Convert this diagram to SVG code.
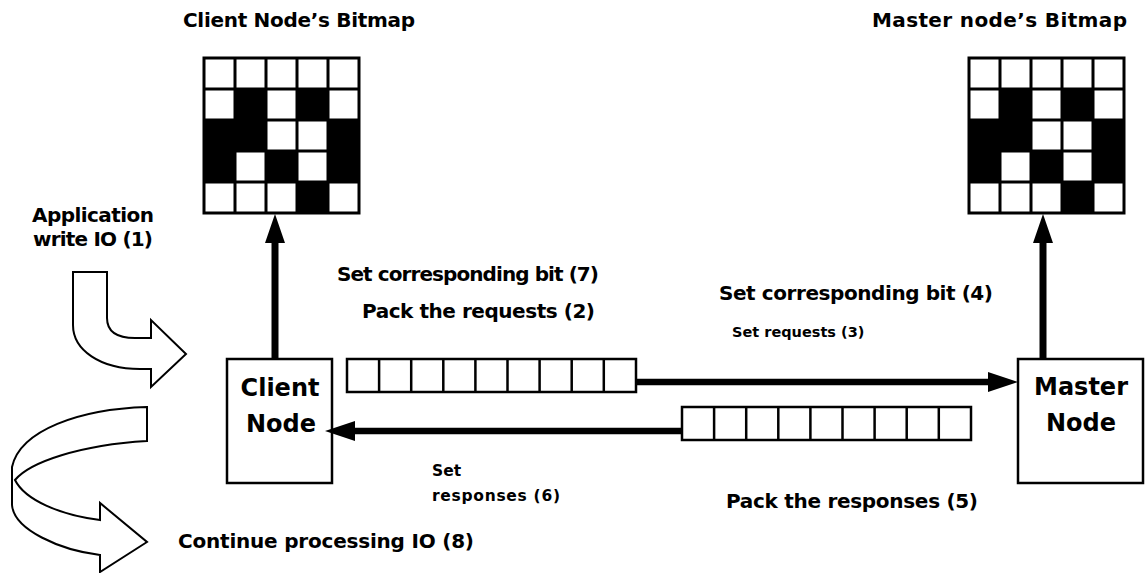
<svg xmlns="http://www.w3.org/2000/svg" width="1145" height="573" viewBox="0 0 1145 573">
<style>
  text { font-family: "DejaVu Sans", "Liberation Sans", sans-serif; font-weight: bold; fill: #000; }
  .lbl { font-size: 20px; }
  .sm { font-size: 15.5px; }
  .xs { font-size: 14.5px; }
  .big { font-size: 24px; text-anchor: middle; }
  .box { fill: #fff; stroke: #000; stroke-width: 2.5; }
  .cell { fill: #fff; stroke: #000; stroke-width: 2.5; }
  .grid { fill: none; stroke: #000; stroke-width: 3; }
  .blk { fill: #000; }
  .conn { stroke: #000; stroke-width: 7; fill: none; }
  .hconn { stroke: #000; stroke-width: 6.5; fill: none; }
  .head { fill: #000; }
  .bend { fill: #fff; stroke: #000; stroke-width: 2; stroke-linejoin: miter; }
</style>
<defs>
  <g id="bitmap">
    <rect x="0" y="0" width="155" height="155" fill="#fff"/>
    <rect class="blk" x="31" y="31" width="31" height="31"/>
    <rect class="blk" x="93" y="31" width="31" height="31"/>
    <rect class="blk" x="0" y="62" width="31" height="31"/>
    <rect class="blk" x="31" y="62" width="31" height="31"/>
    <rect class="blk" x="124" y="62" width="31" height="31"/>
    <rect class="blk" x="0" y="93" width="31" height="31"/>
    <rect class="blk" x="62" y="93" width="31" height="31"/>
    <rect class="blk" x="124" y="93" width="31" height="31"/>
    <rect class="blk" x="93" y="124" width="31" height="31"/>
    <path class="grid" d="M0,0H155V155H0Z M31,0V155 M62,0V155 M93,0V155 M124,0V155 M0,31H155 M0,62H155 M0,93H155 M0,124H155"/>
  </g>
  <g id="packet">
    <rect class="cell" x="0" y="0" width="289" height="33"/>
    <path class="cell" d="M32.1,0V33 M64.2,0V33 M96.3,0V33 M128.4,0V33 M160.5,0V33 M192.6,0V33 M224.7,0V33 M256.8,0V33"/>
  </g>
</defs>

<g id="client-bitmap">
  <text class="lbl" x="183" y="27" textLength="232">Client Node’s Bitmap</text>
  <use href="#bitmap" x="204" y="58"/>
</g>

<g id="master-bitmap">
  <text class="lbl" x="872" y="27" textLength="255">Master node’s Bitmap</text>
  <use href="#bitmap" x="969" y="58"/>
</g>

<g id="client-node">
  <rect class="box" x="227" y="359" width="105" height="124"/>
  <text class="big" x="280" y="396">Client</text>
  <text class="big" x="281" y="432">Node</text>
</g>

<g id="master-node">
  <rect class="box" x="1018" y="359" width="125" height="124"/>
  <text class="big" x="1081" y="395">Master</text>
  <text class="big" x="1081" y="431">Node</text>
</g>

<g id="request-packet">
  <use href="#packet" x="347" y="359"/>
</g>

<g id="response-packet">
  <use href="#packet" x="682" y="407"/>
</g>

<g id="connectors">
  <line class="conn" x1="275" y1="359" x2="275" y2="240"/>
  <polygon class="head" points="275,214 265,243 285,243"/>
  <line class="conn" x1="1043" y1="359" x2="1043" y2="240"/>
  <polygon class="head" points="1043,214 1033,243 1053,243"/>
  <line class="hconn" x1="636" y1="382" x2="992" y2="382"/>
  <polygon class="head" points="1018,382 988,372 988,392"/>
  <line class="hconn" x1="682" y1="431" x2="352" y2="431"/>
  <polygon class="head" points="325,431 355,421 355,441"/>
</g>

<g id="app-write">
  <text class="lbl" x="32" y="222" textLength="122">Application</text>
  <text class="lbl" x="33" y="246" textLength="120">write IO (1)</text>
  <path class="bend" d="M73,272 H107 V318 Q107,338 135,338 H151 V320 L186,354 L151,387 V369 H140 C100,369 73,350 73,325 Z"/>
</g>

<g id="continue">
  <path class="bend" d="M147,407 C80,409 20,430 12,467 L12,505 C14,530 60,550 100,555 L100,572 L147,542 L100,503 L100,520 C60,515 25,500 15,480 C30,462 80,445 147,441 Z"/>
  <text class="lbl" x="178" y="548" textLength="296">Continue processing IO (8)</text>
</g>

<g id="labels">
  <text class="lbl" x="337" y="281" textLength="262">Set corresponding bit (7)</text>
  <text class="lbl" x="362" y="318" textLength="233">Pack the requests (2)</text>
  <text class="lbl" x="719" y="300" textLength="274">Set corresponding bit (4)</text>
  <text class="xs" x="732" y="337">Set requests (3)</text>
  <text class="sm" x="432" y="476">Set</text>
  <text class="sm" x="432" y="501" textLength="128">responses (6)</text>
  <text class="lbl" x="726" y="508" textLength="252">Pack the responses (5)</text>
</g>
</svg>
